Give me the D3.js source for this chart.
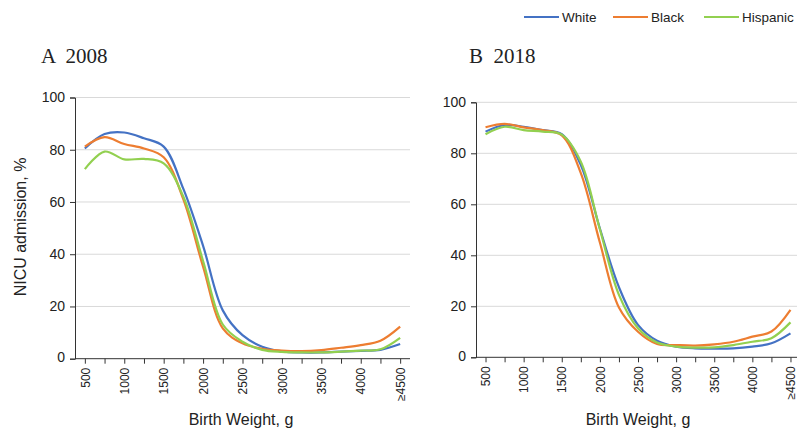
<!DOCTYPE html>
<html>
<head>
<meta charset="utf-8">
<script src="https://cdn.jsdelivr.net/npm/d3@7"></script>
<style>
  body { margin: 0; background: #fff; }
  text { font-family: "Liberation Sans", Arial, sans-serif; fill: #222; }
</style>
</head>
<body>
<div id="chart"></div>
<script>
var svgWidth = 797;
var svgHeight = 433;

// birth weight categories (g)
var weights = [500, 750, 1000, 1250, 1500, 1750, 2000, 2250, 2500, 2750, 3000, 3250, 3500, 3750, 4000, 4250, 4500];
var weightLabels = {500: "500", 1000: "1000", 1500: "1500", 2000: "2000", 2500: "2500", 3000: "3000", 3500: "3500", 4000: "4000", 4500: "\u22654500"};
var yTicks = [0, 20, 40, 60, 80, 100];

var seriesNames = ["White", "Black", "Hispanic"];
var seriesColors = ["#4472C4", "#ED7D31", "#92D050"];

// 2008 NICU admission, %
var white2008 = [80.5, 86, 86.6, 84.4, 81.2, 65, 43.2, 18.5, 9, 4.6, 2.8, 2.4, 2.4, 2.7, 3.0, 3.4, 5.6];
var black2008 = [81.2, 84.8, 82.2, 80.5, 77.1, 61, 35.2, 11.6, 5.9, 3.8, 3.1, 2.9, 3.3, 4.2, 5.2, 6.9, 12.3];
var hispanic2008 = [72.6, 79.3, 76.3, 76.5, 74.8, 62, 37.4, 13.1, 6.5, 3.4, 2.6, 2.4, 2.4, 2.7, 3.1, 3.6, 8];

// 2018 NICU admission, %
var white2018 = [88.5, 91.1, 90.4, 89.1, 87.5, 75.4, 50.5, 27.5, 12.7, 6.5, 4.2, 3.5, 3.4, 3.5, 4.2, 5.5, 9.4];
var black2018 = [90.2, 91.5, 90.2, 89.1, 87, 72.2, 45, 19.5, 10, 5.2, 4.8, 4.6, 5.1, 6.1, 8.1, 10.1, 18.6];
var hispanic2018 = [87.5, 90.4, 89.1, 88.5, 87.3, 76.7, 50.2, 24.5, 11.4, 5.8, 4.2, 3.8, 3.9, 4.8, 6.1, 7.5, 13.7];

var svg = d3.select("#chart").append("svg").attr("width", svgWidth).attr("height", svgHeight);

// one panel per year
function drawPanel(opts) {
    var x = d3.scalePoint().domain(weights).range([opts.left, opts.right]).padding(0.5);
    var y = d3.scaleLinear().domain([0, 100]).range([opts.bottom, opts.top]);

    var g = svg.append("g");

    // gridlines
    g.append("g").selectAll("line").data(yTicks.slice(1)).join("line")
        .attr("x1", opts.left).attr("x2", opts.right)
        .attr("y1", d => y(d)).attr("y2", d => y(d))
        .attr("stroke", "#d9d9d9").attr("stroke-width", 1);

    // y axis
    var yAxis = g.append("g").attr("transform", `translate(${opts.left},0)`)
        .call(d3.axisLeft(y).tickValues(yTicks).tickSize(5).tickPadding(5));
    yAxis.select(".domain").attr("stroke", "#333");
    yAxis.selectAll(".tick line").attr("stroke", "#333");
    yAxis.selectAll("text").style("font-size", "14px").attr("fill", "#222");
    yAxis.selectAll(".tick").filter(d => d == 0).select("text").attr("dy", "0.2em");

    // x axis
    var xAxis = g.append("g").attr("transform", `translate(0,${opts.bottom})`)
        .call(d3.axisBottom(x).tickSize(5).tickSizeOuter(0).tickFormat(d => weightLabels[d] || ""));
    xAxis.select(".domain").attr("d", `M${opts.left},0H${opts.right}`).attr("stroke", "#333");
    xAxis.selectAll(".tick line").attr("stroke", "#333");
    xAxis.selectAll("text")
        .style("font-size", "12px").attr("fill", "#222")
        .attr("transform", "rotate(-90)")
        .attr("text-anchor", "end")
        .attr("x", -9).attr("y", 0).attr("dy", "0.35em");

    // lines
    var line = d3.line()
        .x((d, i) => x(weights[i]))
        .y(d => y(d))
        .curve(d3.curveCatmullRom.alpha(0.5));

    opts.series.forEach(function(values, i) {
        g.append("path").datum(values)
            .attr("d", line)
            .attr("fill", "none")
            .attr("stroke", seriesColors[i])
            .attr("stroke-width", 2.2)
            .attr("stroke-linejoin", "round");
    });

    // panel title
    svg.append("text").attr("x", opts.titleX).attr("y", 63)
        .style("font-family", "'Liberation Serif', 'Times New Roman', serif")
        .style("font-size", "21px").attr("fill", "#111")
        .attr("xml:space", "preserve")
        .text(opts.title);

    // x label
    svg.append("text").attr("x", opts.xLabelX).attr("y", 425)
        .attr("text-anchor", "middle").style("font-size", "16px")
        .text("Birth Weight, g");
}

drawPanel({
    left: 75, right: 410, top: 97.5, bottom: 358.7,
    series: [white2008, black2008, hispanic2008],
    title: "A  2008", titleX: 41, xLabelX: 241
});

drawPanel({
    left: 476, right: 800, top: 102.3, bottom: 357.3,
    series: [white2018, black2018, hispanic2018],
    title: "B  2018", titleX: 469, xLabelX: 638
});

// y label
svg.append("text")
    .attr("transform", "translate(20,227) rotate(-90)")
    .attr("text-anchor", "middle").attr("dy", "0.35em")
    .style("font-size", "16px")
    .text("NICU admission, %");

// legend
var legendX = [524, 613, 704];
var legend = svg.append("g");
seriesNames.forEach(function(name, i) {
    legend.append("line")
        .attr("x1", legendX[i]).attr("x2", legendX[i] + 35)
        .attr("y1", 17).attr("y2", 17)
        .attr("stroke", seriesColors[i]).attr("stroke-width", 2.2);
    legend.append("text")
        .attr("x", legendX[i] + 38).attr("y", 17).attr("dy", "0.35em")
        .style("font-size", "13.5px")
        .text(name);
});
</script>
</body>
</html>
